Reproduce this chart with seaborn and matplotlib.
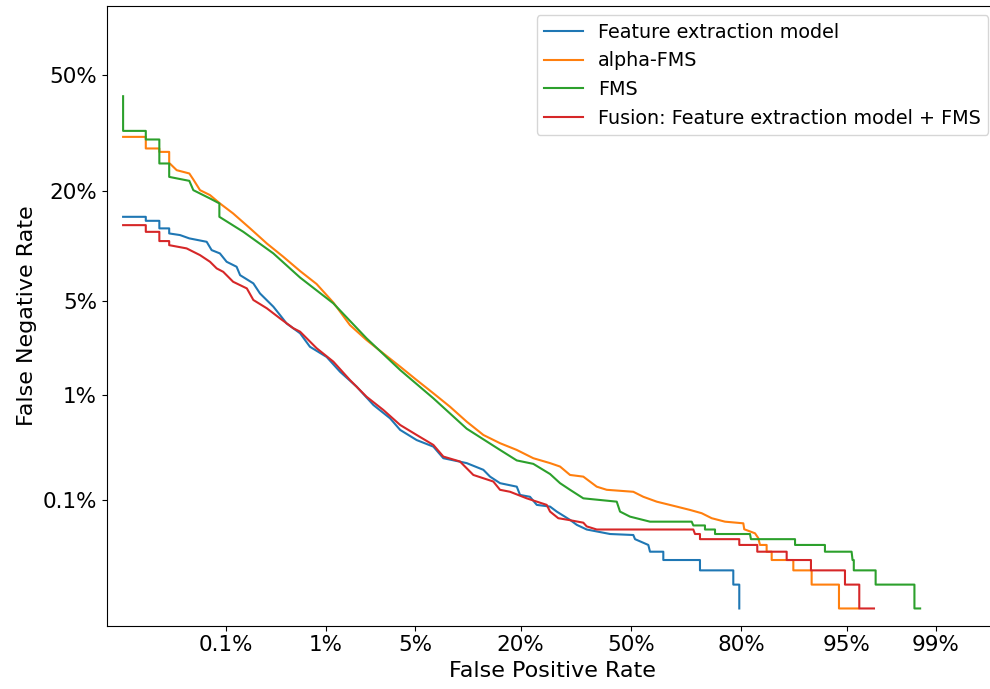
import warnings
warnings.filterwarnings('ignore')
from statistics import NormalDist
import numpy as np
import pandas as pd
import seaborn as sns
import matplotlib
matplotlib.use('Agg')
import matplotlib.pyplot as plt

# DET curve values (percent)
fpr_fe = [0.00533, 0.0107, 0.0107, 0.016, 0.016, 0.0213, 0.0213, 0.029, 0.0376, 0.0603, 0.0688, 0.0855,
          0.1017, 0.131, 0.143, 0.198, 0.232, 0.318, 0.370, 0.430, 0.579, 0.715, 1.011, 1.32, 1.817, 2.47,
          3.30, 3.91, 5.10, 6.58, 7.61, 10.50, 13.0, 14.11, 15.88, 19.17, 19.86, 22.04, 23.61, 26.84, 28.55,
          32.09, 33.95, 36.77, 43.65, 50.70, 51.22, 55.25, 55.76, 59.73, 59.73, 70.06, 70.06, 78.24, 78.24,
          79.56, 79.56]
fnr_fe = [15.09, 15.09, 14.42, 14.42, 13.21, 13.21, 12.44, 12.20, 11.72, 11.24, 10.13, 9.71, 8.71, 8.15,
          7.27, 6.48, 5.61, 4.60, 4.05, 3.54, 3.02, 2.41, 2.02, 1.551, 1.174, 0.823, 0.630, 0.495, 0.399,
          0.346, 0.268, 0.240, 0.206, 0.176, 0.151, 0.139, 0.114, 0.109, 0.0894, 0.0857, 0.0757, 0.0614,
          0.0541, 0.048, 0.0427, 0.0416, 0.0373, 0.032, 0.0267, 0.0267, 0.0213, 0.0213, 0.016, 0.016,
          0.0107, 0.0107, 0.00533]

fpr_alpha = [0.00533, 0.0107, 0.0107, 0.016, 0.016, 0.0213, 0.0213, 0.0264, 0.0376, 0.042, 0.0504, 0.0659,
             0.0855, 0.120, 0.183, 0.273, 0.399, 0.579, 0.823, 1.157, 1.60, 2.18, 2.94, 3.91, 5.10, 6.58,
             8.36, 10.50, 13.0, 15.88, 19.17, 22.80, 26.84, 29.41, 32.09, 35.80, 39.68, 42.65, 50.70, 53.74,
             57.77, 63.63, 67.36, 70.51, 73.09, 76.33, 80.42, 80.62, 82.79, 83.42, 83.74, 84.96, 84.96,
             85.84, 85.84, 89.22, 89.22, 91.59, 91.59, 94.37, 94.37, 95.85]
fnr_alpha = [32.55, 32.55, 29.58, 29.58, 28.73, 28.73, 26.07, 24.38, 23.64, 22.31, 20.07, 19.08, 17.48,
             15.67, 13.21, 11.01, 9.30, 7.69, 6.42, 4.90, 3.45, 2.70, 2.15, 1.70, 1.33, 1.035, 0.796, 0.588,
             0.445, 0.373, 0.322, 0.268, 0.240, 0.222, 0.183, 0.176, 0.139, 0.129, 0.123, 0.109, 0.0968,
             0.0857, 0.0789, 0.0727, 0.0641, 0.0587, 0.0563, 0.0483, 0.0435, 0.0384, 0.032, 0.032, 0.0267,
             0.0267, 0.0213, 0.0213, 0.016, 0.016, 0.0107, 0.0107, 0.00533, 0.00533]

fpr_fms = [0.00533, 0.00533, 0.0107, 0.0107, 0.016, 0.016, 0.0213, 0.0213, 0.0376, 0.042, 0.0659, 0.0843,
           0.0843, 0.155, 0.318, 0.579, 1.157, 2.18, 3.91, 6.58, 10.50, 15.88, 19.17, 22.80, 26.84, 29.41,
           32.09, 35.80, 45.66, 46.66, 49.70, 55.76, 67.83, 68.27, 71.37, 71.37, 73.92, 73.92, 81.80, 81.99,
           89.46, 89.46, 93.05, 93.05, 95.38, 95.45, 95.54, 95.54, 96.90, 96.90, 98.47, 98.47, 98.63]
fnr_fms = [43.75, 34.13, 34.13, 31.87, 31.87, 25.93, 25.93, 22.88, 22.02, 20.07, 18.42, 17.48, 15.09,
           12.68, 9.71, 7.03, 4.84, 2.78, 1.60, 0.939, 0.508, 0.322, 0.255, 0.236, 0.187, 0.151, 0.129,
           0.105, 0.0968, 0.0757, 0.0667, 0.0587, 0.0587, 0.0533, 0.0533, 0.048, 0.048, 0.0427, 0.0427,
           0.0373, 0.0373, 0.032, 0.032, 0.0267, 0.0267, 0.0213, 0.0213, 0.016, 0.016, 0.0107, 0.0107,
           0.00533, 0.00533]

fpr_fusion = [0.00533, 0.0107, 0.0107, 0.016, 0.016, 0.0213, 0.0213, 0.0349, 0.0504, 0.0659, 0.0786,
              0.0932, 0.120, 0.169, 0.198, 0.273, 0.370, 0.499, 0.579, 0.823, 1.157, 1.60, 2.18, 2.94,
              3.91, 5.10, 6.58, 7.61, 9.59, 11.45, 14.67, 15.88, 17.81, 21.31, 26.01, 26.84, 28.95, 31.64,
              35.80, 36.77, 39.68, 68.27, 68.73, 70.06, 70.06, 79.56, 79.56, 83.23, 83.23, 88.25, 88.25,
              91.51, 91.51, 94.87, 94.87, 95.92, 95.92, 96.81]
fnr_fusion = [13.72, 13.72, 12.68, 12.68, 11.34, 11.34, 10.78, 10.35, 9.50, 8.71, 7.97, 7.61, 6.63, 6.03,
              5.09, 4.49, 3.84, 3.28, 3.10, 2.35, 1.86, 1.331, 0.969, 0.746, 0.549, 0.445, 0.359, 0.278,
              0.249, 0.183, 0.157, 0.129, 0.123, 0.105, 0.0894, 0.0757, 0.0641, 0.0614, 0.0572, 0.052,
              0.048, 0.048, 0.0427, 0.0427, 0.0373, 0.0373, 0.032, 0.032, 0.0267, 0.0267, 0.0213, 0.0213,
              0.016, 0.016, 0.0107, 0.0107, 0.00533, 0.00533]

models = ['Feature extraction model', 'alpha-FMS', 'FMS', 'Fusion: Feature extraction model + FMS']
curves = [(fpr_fe, fnr_fe), (fpr_alpha, fnr_alpha), (fpr_fms, fnr_fms), (fpr_fusion, fnr_fusion)]
colors = ['#1f77b4', '#ff7f0e', '#2ca02c', '#d62728']

xticks = [0.001, 0.01, 0.05, 0.20, 0.50, 0.80, 0.95, 0.99]
xticklabels = ['0.1%', '1%', '5%', '20%', '50%', '80%', '95%', '99%']
yticks = [0.001, 0.01, 0.05, 0.20, 0.50]
yticklabels = ['0.1%', '1%', '5%', '20%', '50%']

# normal deviate scale (like a DET plot)
nd = NormalDist()
_ppf = np.vectorize(nd.inv_cdf, otypes=[float])
_cdf = np.vectorize(nd.cdf, otypes=[float])


def probit(p):
    p = np.clip(np.asarray(p, dtype=float), 1e-9, 1 - 1e-9)
    return _ppf(p)


def inv_probit(z):
    return _cdf(np.asarray(z, dtype=float))


frames = []
for name, (fpr, fnr) in zip(models, curves):
    frames.append(pd.DataFrame({'fpr': np.array(fpr) / 100, 'fnr': np.array(fnr) / 100, 'model': name}))
data = pd.concat(frames, ignore_index=True)

fig = plt.figure(figsize=(9.9, 6.89), dpi=100)
ax = fig.add_axes([0.1078, 0.0919, 0.9003, 0.8999])
ax.set_xscale('function', functions=(probit, inv_probit))
ax.set_yscale('function', functions=(probit, inv_probit))

for name, color in zip(models, colors):
    sns.lineplot(data=data[data['model'] == name], x='fpr', y='fnr', color=color, label=name,
                 estimator=None, sort=False, linewidth=1.5, ax=ax)

ax.set_xlim(nd.cdf(-4.0), nd.cdf(2.8))
ax.set_ylim(nd.cdf(-4.0), nd.cdf(0.5))
ax.set_xticks(xticks)
ax.set_xticklabels(xticklabels)
ax.set_yticks(yticks)
ax.set_yticklabels(yticklabels)
ax.minorticks_off()
ax.tick_params(labelsize=15.5)
ax.set_xlabel('False Positive Rate', fontsize=16)
ax.set_ylabel('False Negative Rate', fontsize=16)
ax.legend(loc='upper right', fontsize=13.8)

fig.savefig('out.png', dpi=100)
